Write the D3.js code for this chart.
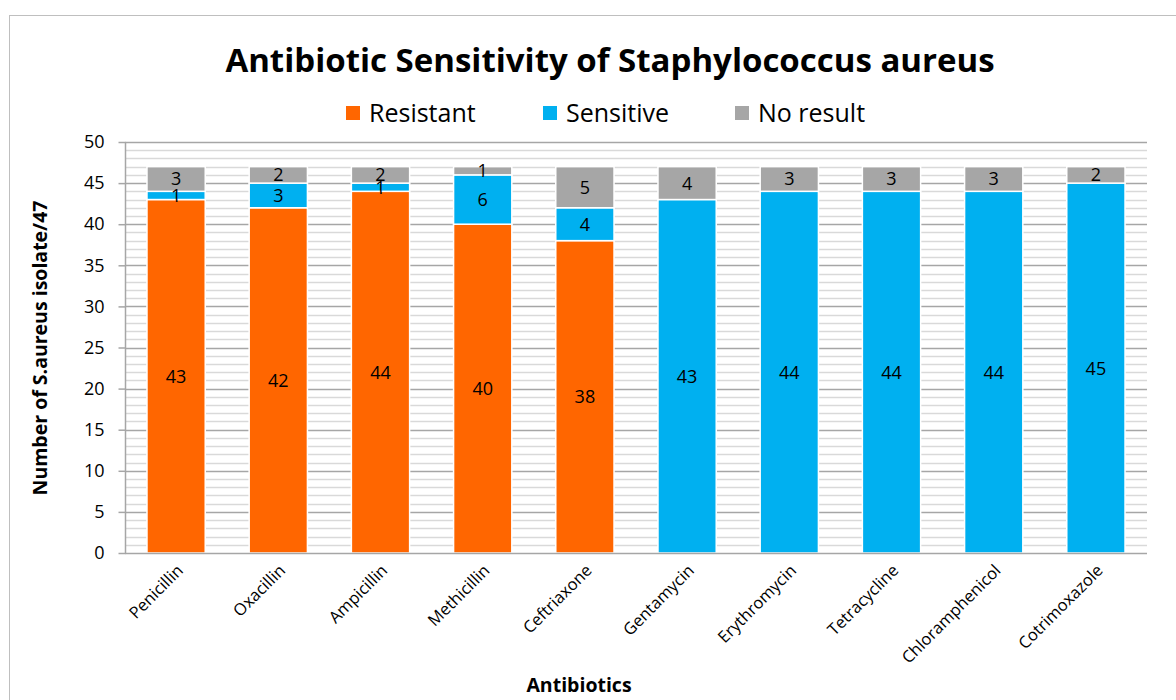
<!DOCTYPE html>
<html>
<head>
<meta charset="utf-8">
<script src="https://cdn.jsdelivr.net/npm/d3@7"></script>
<style>
  body { margin: 0; background: #fff; }
  svg text { font-family: "Open Sans", Lato, sans-serif; fill: #000; }
</style>
</head>
<body>
<div id="chart"></div>
<script>
var antibiotics = ["Penicillin", "Oxacillin", "Ampicillin", "Methicillin", "Ceftriaxone",
    "Gentamycin", "Erythromycin", "Tetracycline", "Chloramphenicol", "Cotrimoxazole"];
var resistant = [43, 42, 44, 40, 38, 0, 0, 0, 0, 0];
var sensitive = [1, 3, 1, 6, 4, 43, 44, 44, 44, 45];
var noResult  = [3, 2, 2, 1, 5, 4, 3, 3, 3, 2];
var seriesNames = ["Resistant", "Sensitive", "No result"];
var colors = ["#ff6600", "#00b0f0", "#a6a6a6"];
var yTicks = [0, 5, 10, 15, 20, 25, 30, 35, 40, 45, 50];

var width = 1176, height = 700;

var svg = d3.select("#chart").append("svg")
    .attr("width", width)
    .attr("height", height);

// chart border
svg.append("rect")
    .attr("x", 9.5).attr("y", 15.5)
    .attr("width", 1180).attr("height", 700)
    .attr("fill", "none")
    .attr("stroke", "#bfbfbf");

var x = d3.scaleBand()
    .domain(antibiotics)
    .range([125, 1147])
    .paddingInner(0.43)
    .paddingOuter(0.215);

var y = d3.scaleLinear()
    .domain([0, 50])
    .range([553, 142]);

// grid lines, minor every 1, major every 5
var grid = svg.append("g");
grid.selectAll("line")
  .data(d3.range(1, 51))
  .enter().append("line")
    .attr("x1", 125)
    .attr("x2", 1147)
    .attr("y1", function(d) { return Math.round(y(d)) + 0.5; })
    .attr("y2", function(d) { return Math.round(y(d)) + 0.5; })
    .attr("stroke", function(d) { return d % 5 === 0 ? "#a6a6a6" : "#d9d9d9"; })
    .attr("stroke-width", 1.5);

var table = antibiotics.map(function(a, i) {
  return { name: a, Resistant: resistant[i], Sensitive: sensitive[i], "No result": noResult[i] };
});

var stacked = d3.stack().keys(seriesNames)(table);

var layers = svg.selectAll(".layer")
  .data(stacked)
  .enter().append("g")
    .attr("class", "layer")
    .attr("fill", function(d, i) { return colors[i]; });

layers.selectAll("rect")
  .data(function(d) { return d; })
  .enter().append("rect")
    .attr("x", function(d) { return x(d.data.name); })
    .attr("width", x.bandwidth())
    .attr("y", function(d) { return y(d[1]); })
    .attr("height", function(d) { return y(d[0]) - y(d[1]); })
    .attr("stroke", "#fff")
    .attr("stroke-width", 1.5);

// data labels, drawn on top of all bars
var labels = svg.selectAll(".labels")
  .data(stacked)
  .enter().append("g")
    .attr("class", "labels");

labels.selectAll("text")
  .data(function(d) { return d.filter(function(p) { return p[1] - p[0] > 0; }); })
  .enter().append("text")
    .attr("x", function(d) { return x(d.data.name) + x.bandwidth() / 2; })
    .attr("y", function(d) { return y((d[0] + d[1]) / 2); })
    .attr("dy", "0.36em")
    .attr("text-anchor", "middle")
    .style("font-size", "18px")
    .text(function(d) { return d[1] - d[0]; });

// y axis
var yAxis = svg.append("g")
    .attr("transform", "translate(125.5,0)")
    .call(d3.axisLeft(y).tickValues(yTicks).tickSize(7).tickPadding(14));
yAxis.select(".domain").attr("stroke", "#a6a6a6").attr("stroke-width", 1.5).attr("d", "M0," + y(50) + "V" + y(0));
yAxis.selectAll(".tick line").attr("stroke", "#a6a6a6").attr("stroke-width", 1.5);
yAxis.selectAll(".tick text").style("font-size", "18px").attr("fill", "#000");

// x axis
var xAxis = svg.append("g")
    .attr("transform", "translate(0,553.5)")
    .call(d3.axisBottom(x).tickSize(0).tickPadding(0));
xAxis.select(".domain").attr("stroke", "#a6a6a6").attr("stroke-width", 1.5).attr("d", "M125,0H1147");
xAxis.selectAll(".tick text")
    .style("font-size", "16.5px")
    .attr("fill", "#000")
    .attr("text-anchor", "end")
    .attr("dy", null)
    .attr("y", 0)
    .attr("transform", "translate(8,18) rotate(-45)");

// title
svg.append("text")
    .attr("x", 610)
    .attr("y", 72)
    .attr("text-anchor", "middle")
    .style("font-size", "33px")
    .style("font-weight", "bold")
    .text("Antibiotic Sensitivity of Staphylococcus aureus");

// legend
var legendX = [346, 543, 735];
var legend = svg.selectAll(".legend")
  .data(seriesNames)
  .enter().append("g")
    .attr("class", "legend")
    .attr("transform", function(d, i) { return "translate(" + legendX[i] + ",106)"; });
legend.append("rect")
    .attr("width", 14).attr("height", 14)
    .attr("fill", function(d, i) { return colors[i]; });
legend.append("text")
    .attr("x", 23)
    .attr("y", 7)
    .attr("dy", "0.36em")
    .style("font-size", "25px")
    .text(function(d) { return d; });

// axis titles
svg.append("text")
    .attr("transform", "translate(47,348) rotate(-90)")
    .attr("text-anchor", "middle")
    .style("font-size", "19.5px")
    .style("font-weight", "bold")
    .text("Number of S.aureus isolate/47");

svg.append("text")
    .attr("x", 579)
    .attr("y", 692)
    .attr("text-anchor", "middle")
    .style("font-size", "19.5px")
    .style("font-weight", "bold")
    .text("Antibiotics");
</script>
</body>
</html>
